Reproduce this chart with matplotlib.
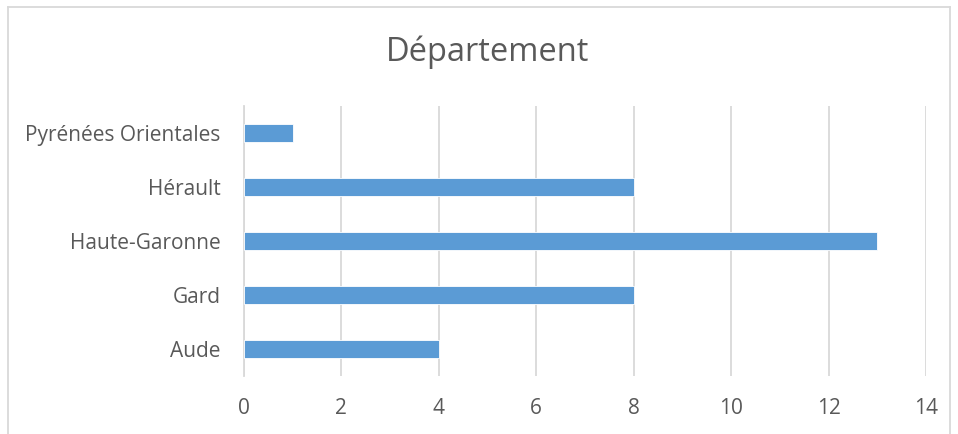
import matplotlib.pyplot as plt
from matplotlib.lines import Line2D

plt.rcParams['font.family'] = ['Open Sans', 'DejaVu Sans']

departements = ["Aude", "Gard", "Haute-Garonne", "Hérault", "Pyrénées Orientales"]
valeurs = [4, 8, 13, 8, 1]
ticks_x = [0, 2, 4, 6, 8, 10, 12, 14]

text_color = "#595959"
grid_color = "#D9D9D9"

fig = plt.figure(figsize=(9.58, 4.34), dpi=100)
ax = fig.add_axes([244 / 958, 1 - 376 / 434, (926 - 244) / 958, (376 - 106) / 434])

ax.barh(range(len(departements)), valeurs, height=0.33, color="#5B9BD5",
        edgecolor="white", linewidth=0.6, zorder=3)

ax.set_xlim(0, 14)
ax.set_ylim(-0.5, len(departements) - 0.5)
ax.set_xticks(ticks_x)
ax.set_yticks(range(len(departements)))
ax.set_yticklabels(departements)
ax.grid(axis="x", color=grid_color, linewidth=1.3, zorder=0)
ax.tick_params(axis="both", length=0, labelsize=15, colors=text_color)
ax.tick_params(axis="x", pad=16)
ax.tick_params(axis="y", pad=17)
for s in ["top", "right", "bottom"]:
    ax.spines[s].set_visible(False)
ax.spines["left"].set_color(grid_color)
ax.spines["left"].set_linewidth(1.3)

fig.text(488 / 958, 1 - 52 / 434, "Département", ha="center", va="center",
         fontsize=23.5, color=text_color)

# chart frame
fig.add_artist(Line2D([8 / 958, 8 / 958], [0, 1 - 7 / 434], color=grid_color, lw=1.3, transform=fig.transFigure))
fig.add_artist(Line2D([8 / 958, 950 / 958], [1 - 7 / 434, 1 - 7 / 434], color=grid_color, lw=1.3, transform=fig.transFigure))
fig.add_artist(Line2D([950 / 958, 950 / 958], [0, 1 - 7 / 434], color=grid_color, lw=1.3, transform=fig.transFigure))

fig.savefig("out.png", dpi=100)
